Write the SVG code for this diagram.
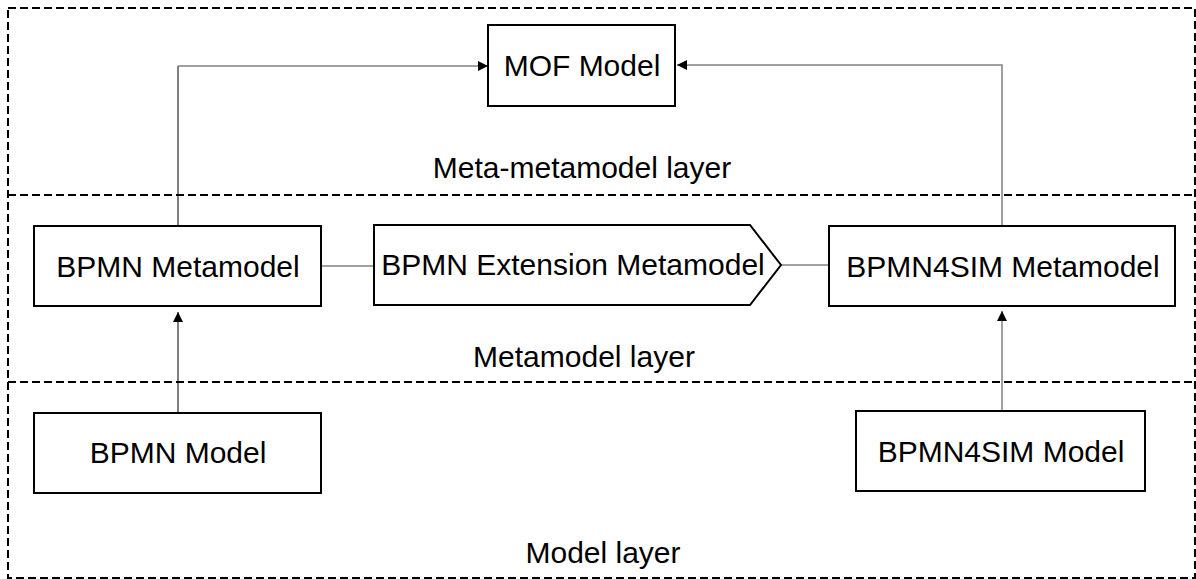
<svg xmlns="http://www.w3.org/2000/svg" width="1196" height="579" viewBox="0 0 1196 579">
<style>
  .layer { fill: none; stroke: #000; stroke-width: 2; stroke-dasharray: 8 4; }
  .box { fill: #fff; stroke: #000; stroke-width: 2; }
  .t { font-family: "Liberation Sans", Arial, sans-serif; font-size: 30px; fill: #000; text-anchor: middle; }
  .cb { fill: none; stroke: #000; stroke-width: 1; }
  .cg { fill: none; stroke: #808080; stroke-width: 1.5; }
</style>
<defs>
  <marker id="arr" viewBox="0 0 10 10" refX="10" refY="5" markerWidth="10" markerHeight="10" markerUnits="userSpaceOnUse" orient="auto">
    <path d="M0,0 L10,5 L0,10 Z" fill="#000"/>
  </marker>
</defs>
<g id="layers">
  <rect class="layer" x="8" y="8" width="1187" height="570"/>
  <line class="layer" x1="8" y1="195" x2="1195" y2="195"/>
  <line class="layer" x1="8" y1="382" x2="1195" y2="382"/>
  <text class="t" x="582" y="178">Meta-metamodel layer</text>
  <text class="t" x="584" y="367">Metamodel layer</text>
  <text class="t" x="603" y="563">Model layer</text>
</g>
<g id="connectors">
  <polyline class="cb" points="178,226 178,66"/>
  <polyline class="cg" points="178,66 488,66" marker-end="url(#arr)"/>
  <polyline class="cg" points="1002,226 1002,65 677,65" marker-end="url(#arr)"/>
  <line class="cb" x1="178" y1="413" x2="178" y2="312" marker-end="url(#arr)"/>
  <line class="cg" x1="1002" y1="411" x2="1002" y2="311" marker-end="url(#arr)"/>
  <line class="cg" x1="321" y1="266" x2="374" y2="266"/>
  <line class="cg" x1="781" y1="265" x2="829" y2="265"/>
</g>
<g id="mof">
  <rect class="box" x="488" y="25" width="187" height="81"/>
  <text class="t" x="582" y="76">MOF Model</text>
</g>
<g id="bpmn-metamodel">
  <rect class="box" x="34" y="226" width="287" height="80"/>
  <text class="t" x="178" y="277">BPMN Metamodel</text>
</g>
<g id="bpmn-extension">
  <polygon class="box" points="374,225 750,225 781,265 750,305 374,305"/>
  <text class="t" x="573" y="275">BPMN Extension Metamodel</text>
</g>
<g id="bpmn4sim-metamodel">
  <rect class="box" x="829" y="226" width="346" height="80"/>
  <text class="t" x="1003" y="277">BPMN4SIM Metamodel</text>
</g>
<g id="bpmn-model">
  <rect class="box" x="34" y="413" width="287" height="80"/>
  <text class="t" x="178" y="463">BPMN Model</text>
</g>
<g id="bpmn4sim-model">
  <rect class="box" x="856" y="411" width="289" height="80"/>
  <text class="t" x="1001" y="462">BPMN4SIM Model</text>
</g>
</svg>
